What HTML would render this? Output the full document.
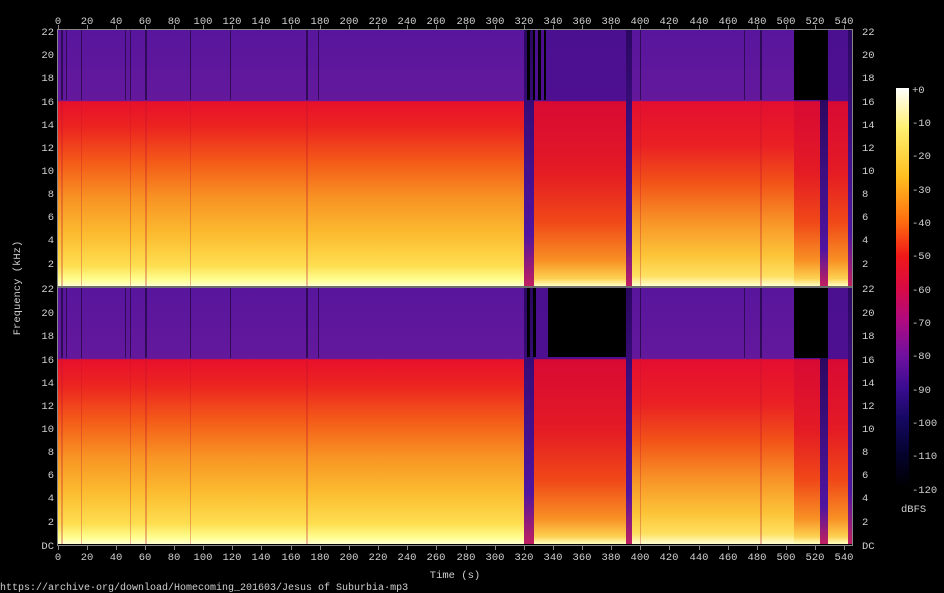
<!DOCTYPE html>
<html><head><meta charset="utf-8"><style>
html,body{margin:0;padding:0;background:#000;}
svg{display:block}
text{font-family:"Liberation Mono",monospace;font-size:10.5px;fill:#d0d0d0}
</style></head><body>
<svg width="944" height="593" xmlns="http://www.w3.org/2000/svg">
<defs>
<linearGradient id="n" x1="0" y1="0" x2="0" y2="1">
<stop offset="0" stop-color="#58169c"/><stop offset="0.276" stop-color="#64189c"/>
<stop offset="0.28" stop-color="#e8102c"/><stop offset="0.38" stop-color="#ec2420"/>
<stop offset="0.52" stop-color="#f45c18"/><stop offset="0.66" stop-color="#f89424"/>
<stop offset="0.8" stop-color="#fcbc30"/><stop offset="0.92" stop-color="#fede50"/>
<stop offset="0.975" stop-color="#ffff90"/><stop offset="1" stop-color="#ffffd0"/>
</linearGradient>
<linearGradient id="r" x1="0" y1="0" x2="0" y2="1">
<stop offset="0" stop-color="#4a1090"/><stop offset="0.276" stop-color="#4e1090"/>
<stop offset="0.28" stop-color="#d80a34"/><stop offset="0.55" stop-color="#e41a24"/>
<stop offset="0.75" stop-color="#f04818"/><stop offset="0.9" stop-color="#f89024"/>
<stop offset="0.97" stop-color="#fcd050"/><stop offset="1" stop-color="#ffffc0"/>
</linearGradient>
<linearGradient id="e" x1="0" y1="0" x2="0" y2="1">
<stop offset="0" stop-color="#58169c"/><stop offset="0.276" stop-color="#64189c"/>
<stop offset="0.28" stop-color="#e40e30"/><stop offset="0.45" stop-color="#ea2024"/>
<stop offset="0.6" stop-color="#f25418"/><stop offset="0.75" stop-color="#f89428"/>
<stop offset="0.88" stop-color="#fcc438"/><stop offset="0.96" stop-color="#fee060"/><stop offset="1" stop-color="#ffffd0"/>
</linearGradient>
<linearGradient id="p" x1="0" y1="0" x2="0" y2="1">
<stop offset="0" stop-color="#2a0860"/><stop offset="0.8" stop-color="#5014a0"/><stop offset="1" stop-color="#c02060"/>
</linearGradient>
<linearGradient id="cb" x1="0" y1="0" x2="0" y2="1">
<stop offset="0" stop-color="#ffffff"/><stop offset="0.1" stop-color="#fff070"/>
<stop offset="0.22" stop-color="#ffc020"/><stop offset="0.33" stop-color="#ff7010"/>
<stop offset="0.42" stop-color="#f01818"/><stop offset="0.5" stop-color="#d80a44"/>
<stop offset="0.58" stop-color="#b00a80"/><stop offset="0.67" stop-color="#7010a0"/>
<stop offset="0.75" stop-color="#3a0c90"/><stop offset="0.83" stop-color="#140860"/>
<stop offset="0.92" stop-color="#04022a"/><stop offset="1" stop-color="#000000"/>
</linearGradient>
<g id="ch">
<rect x="58" y="0" width="466" height="256" fill="url(#n)"/>
<rect x="524" y="0" width="10" height="256" fill="url(#p)"/>
<rect x="534" y="0" width="92" height="256" fill="url(#r)"/>
<rect x="626" y="0" width="6" height="256" fill="url(#p)"/>
<rect x="632" y="0" width="162" height="256" fill="url(#e)"/>
<rect x="794" y="0" width="58" height="256" fill="url(#r)"/>
<rect x="794" y="0" width="34" height="70" fill="#000"/>
<rect x="820" y="70" width="8" height="186" fill="url(#p)"/>
<rect x="848" y="0" width="4" height="256" fill="url(#p)"/>
<g fill="#200840" opacity="0.75">
<rect x="61" y="0" width="2" height="70"/><rect x="66" y="0" width="1" height="70"/>
<rect x="81" y="0" width="1" height="70"/><rect x="125" y="0" width="1" height="70"/>
<rect x="130" y="0" width="1" height="70"/><rect x="145" y="0" width="2" height="70"/>
<rect x="190" y="0" width="1" height="70"/><rect x="230" y="0" width="1" height="70"/>
<rect x="306" y="0" width="2" height="70"/><rect x="318" y="0" width="1" height="70"/>
<rect x="640" y="0" width="1" height="70"/>
<rect x="744" y="0" width="1" height="70"/><rect x="760" y="0" width="2" height="70"/>
</g>
<g fill="#c01030" opacity="0.3">
<rect x="61" y="70" width="2" height="186"/><rect x="81" y="70" width="1" height="186"/>
<rect x="130" y="70" width="1" height="186"/><rect x="145" y="70" width="2" height="186"/>
<rect x="190" y="70" width="1" height="186"/><rect x="306" y="70" width="2" height="186"/>
<rect x="640" y="70" width="1" height="186"/><rect x="760" y="70" width="2" height="186"/>
</g>
</g>
</defs>
<use href="#ch" y="30"/>
<use href="#ch" y="288"/>
<g fill="#000">
<rect x="527" y="30" width="3" height="70"/><rect x="533" y="30" width="2" height="70"/><rect x="538" y="30" width="3" height="70"/><rect x="544" y="30" width="2" height="70"/>
<rect x="548" y="288" width="78" height="69"/><rect x="527" y="288" width="3" height="69"/><rect x="533" y="288" width="3" height="69"/>
</g>
<rect x="57.5" y="29.5" width="795" height="516" fill="none" stroke="#888" stroke-width="1"/>
<line x1="58" y1="287" x2="852" y2="287" stroke="#ddd" stroke-width="1"/>
<g stroke="#888" stroke-width="1">
<path d="M58.5 29v-4M87.5 29v-4M116.5 29v-4M145.5 29v-4M174.5 29v-4M203.5 29v-4M232.5 29v-4M261.5 29v-4M291.5 29v-4M320.5 29v-4M349.5 29v-4M378.5 29v-4M407.5 29v-4M436.5 29v-4M466.5 29v-4M495.5 29v-4M524.5 29v-4M553.5 29v-4M582.5 29v-4M611.5 29v-4M640.5 29v-4M669.5 29v-4M699.5 29v-4M728.5 29v-4M757.5 29v-4M786.5 29v-4M815.5 29v-4M844.5 29v-4"/>
<path d="M58.5 546v4M87.5 546v4M116.5 546v4M145.5 546v4M174.5 546v4M203.5 546v4M232.5 546v4M261.5 546v4M291.5 546v4M320.5 546v4M349.5 546v4M378.5 546v4M407.5 546v4M436.5 546v4M466.5 546v4M495.5 546v4M524.5 546v4M553.5 546v4M582.5 546v4M611.5 546v4M640.5 546v4M669.5 546v4M699.5 546v4M728.5 546v4M757.5 546v4M786.5 546v4M815.5 546v4M844.5 546v4"/>
</g>
<g>
<text x="58" y="24" text-anchor="middle">0</text><text x="87" y="24" text-anchor="middle">20</text><text x="116" y="24" text-anchor="middle">40</text><text x="145" y="24" text-anchor="middle">60</text><text x="174" y="24" text-anchor="middle">80</text><text x="203" y="24" text-anchor="middle">100</text><text x="232" y="24" text-anchor="middle">120</text><text x="261" y="24" text-anchor="middle">140</text><text x="291" y="24" text-anchor="middle">160</text><text x="320" y="24" text-anchor="middle">180</text><text x="349" y="24" text-anchor="middle">200</text><text x="378" y="24" text-anchor="middle">220</text><text x="407" y="24" text-anchor="middle">240</text><text x="436" y="24" text-anchor="middle">260</text><text x="466" y="24" text-anchor="middle">280</text><text x="495" y="24" text-anchor="middle">300</text><text x="524" y="24" text-anchor="middle">320</text><text x="553" y="24" text-anchor="middle">340</text><text x="582" y="24" text-anchor="middle">360</text><text x="611" y="24" text-anchor="middle">380</text><text x="640" y="24" text-anchor="middle">400</text><text x="669" y="24" text-anchor="middle">420</text><text x="699" y="24" text-anchor="middle">440</text><text x="728" y="24" text-anchor="middle">460</text><text x="757" y="24" text-anchor="middle">480</text><text x="786" y="24" text-anchor="middle">500</text><text x="815" y="24" text-anchor="middle">520</text><text x="844" y="24" text-anchor="middle">540</text>
<text x="58" y="560" text-anchor="middle">0</text><text x="87" y="560" text-anchor="middle">20</text><text x="116" y="560" text-anchor="middle">40</text><text x="145" y="560" text-anchor="middle">60</text><text x="174" y="560" text-anchor="middle">80</text><text x="203" y="560" text-anchor="middle">100</text><text x="232" y="560" text-anchor="middle">120</text><text x="261" y="560" text-anchor="middle">140</text><text x="291" y="560" text-anchor="middle">160</text><text x="320" y="560" text-anchor="middle">180</text><text x="349" y="560" text-anchor="middle">200</text><text x="378" y="560" text-anchor="middle">220</text><text x="407" y="560" text-anchor="middle">240</text><text x="436" y="560" text-anchor="middle">260</text><text x="466" y="560" text-anchor="middle">280</text><text x="495" y="560" text-anchor="middle">300</text><text x="524" y="560" text-anchor="middle">320</text><text x="553" y="560" text-anchor="middle">340</text><text x="582" y="560" text-anchor="middle">360</text><text x="611" y="560" text-anchor="middle">380</text><text x="640" y="560" text-anchor="middle">400</text><text x="669" y="560" text-anchor="middle">420</text><text x="699" y="560" text-anchor="middle">440</text><text x="728" y="560" text-anchor="middle">460</text><text x="757" y="560" text-anchor="middle">480</text><text x="786" y="560" text-anchor="middle">500</text><text x="815" y="560" text-anchor="middle">520</text><text x="844" y="560" text-anchor="middle">540</text>
</g>
<g text-anchor="end">
<text x="54" y="35">22</text><text x="54" y="58">20</text><text x="54" y="81">18</text><text x="54" y="105">16</text><text x="54" y="128">14</text><text x="54" y="151">12</text><text x="54" y="174">10</text><text x="54" y="197">8</text><text x="54" y="220">6</text><text x="54" y="243">4</text><text x="54" y="267">2</text><text x="54" y="292">22</text>
<text x="54" y="316">20</text><text x="54" y="339">18</text><text x="54" y="363">16</text><text x="54" y="386">14</text><text x="54" y="409">12</text><text x="54" y="432">10</text><text x="54" y="455">8</text><text x="54" y="478">6</text><text x="54" y="501">4</text><text x="54" y="525">2</text><text x="54" y="549">DC</text>
</g>
<g>
<text x="862" y="35">22</text><text x="862" y="58">20</text><text x="862" y="81">18</text><text x="862" y="105">16</text><text x="862" y="128">14</text><text x="862" y="151">12</text><text x="862" y="174">10</text><text x="862" y="197">8</text><text x="862" y="220">6</text><text x="862" y="243">4</text><text x="862" y="267">2</text><text x="862" y="292">22</text>
<text x="862" y="316">20</text><text x="862" y="339">18</text><text x="862" y="363">16</text><text x="862" y="386">14</text><text x="862" y="409">12</text><text x="862" y="432">10</text><text x="862" y="455">8</text><text x="862" y="478">6</text><text x="862" y="501">4</text><text x="862" y="525">2</text><text x="862" y="549">DC</text>
</g>
<rect x="896" y="88" width="13" height="400" fill="url(#cb)"/>
<g>
<text x="912" y="93">+0</text><text x="912" y="126">-10</text><text x="912" y="159">-20</text><text x="912" y="193">-30</text><text x="912" y="226">-40</text><text x="912" y="259">-50</text><text x="912" y="293">-60</text><text x="912" y="326">-70</text><text x="912" y="359">-80</text><text x="912" y="393">-90</text><text x="912" y="426">-100</text><text x="912" y="459">-110</text><text x="912" y="493">-120</text>
</g>
<text x="901" y="512">dBFS</text>
<text x="455" y="578" text-anchor="middle">Time (s)</text>
<text x="20" y="288" text-anchor="middle" transform="rotate(-90 20 288)">Frequency (kHz)</text>
<text x="0" y="590" style="font-size:10px">https://archive·org/download/Homecoming_201603/Jesus of Suburbia·mp3</text>
</svg>
</body></html>
